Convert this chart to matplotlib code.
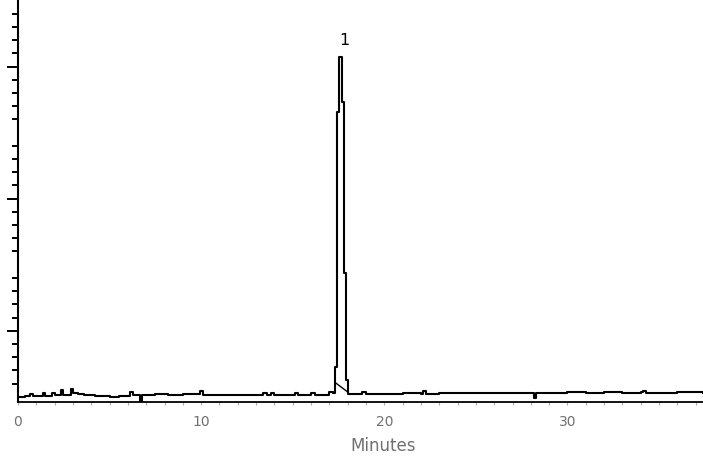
import numpy as np
import matplotlib
matplotlib.use("Agg")
import matplotlib.pyplot as plt
from matplotlib.ticker import FixedLocator

# chromatogram trace, time in minutes, signal in arbitrary units
time_min = [0.0, 0.4, 0.65, 0.8, 1.36, 1.5, 1.85, 2.0, 2.35, 2.45, 2.89, 3.0,
            3.3, 3.6, 4.2, 5.0, 5.5, 6.1, 6.3, 6.66, 6.75, 7.5, 8.2, 9.0,
            9.93, 10.1, 11.0, 12.0, 13.0, 13.4, 13.6, 13.8, 14.0, 15.1, 15.3,
            16.0, 16.2, 16.8, 17.0, 17.2,
            17.29, 17.40, 17.51, 17.68, 17.78, 17.89, 18.0,
            18.5, 18.8, 19.0, 20.0, 21.0, 22.0, 22.1, 22.3, 23.0, 24.0, 25.0,
            26.0, 27.0, 28.0, 28.2, 28.3, 29.0, 30.0, 31.0, 32.0, 33.0, 34.0,
            34.1, 34.3, 35.0, 36.0, 37.0, 37.4]
signal = [0.0, 0.05, 0.2, 0.05, 0.3, 0.05, 0.3, 0.1, 0.5, 0.1, 0.6, 0.3,
          0.2, 0.1, 0.05, 0.0, 0.05, 0.35, 0.15, -0.35, 0.15, 0.2, 0.15, 0.2,
          0.4, 0.15, 0.1, 0.12, 0.15, 0.3, 0.12, 0.3, 0.12, 0.25, 0.1,
          0.3, 0.12, 0.15, 0.35, 0.3,
          2.25, 21.6, 25.7, 22.3, 9.4, 1.27, 0.2,
          0.2, 0.35, 0.2, 0.22, 0.25, 0.22, 0.4, 0.22, 0.25, 0.28, 0.25,
          0.3, 0.28, 0.25, -0.1, 0.28, 0.3, 0.32, 0.3, 0.35, 0.3, 0.33,
          0.45, 0.3, 0.3, 0.35, 0.35, 0.3]

# integration baseline under peak 1
drop_t = [17.35, 18.0]
drop_v = [1.04, 0.36]

peak_label = "1"
peak_pos = (17.84, 27.0)

x_ticks = [0, 10, 20, 30]
x_ticklabels = ["0", "10", "20", "30"]
x_minor = [m for m in range(1, 38) if m % 10 != 0]
y_major = [5, 15, 25]
y_minor = [m for m in range(1, 30) if m % 5 != 0]

fig = plt.figure(figsize=(7.03, 4.57), dpi=100)
ax = fig.add_axes([18 / 703, 55 / 457, 685 / 703, 402 / 457])

ax.plot(time_min, signal, drawstyle="steps-post", color="black", lw=1.5)
ax.plot(drop_t, drop_v, color="black", lw=1.0)
ax.text(peak_pos[0], peak_pos[1], peak_label, ha="center", va="center",
        fontsize=11.5, color="black")

ax.set_xlim(0, 37.4)
ax.set_ylim(-0.4, 30.05)

for s in ("top", "right"):
    ax.spines[s].set_visible(False)
ax.spines["left"].set_linewidth(1.5)
ax.spines["bottom"].set_linewidth(1.3)

ax.set_xticks(x_ticks)
ax.set_xticklabels(x_ticklabels)
ax.xaxis.set_minor_locator(FixedLocator(x_minor))
ax.tick_params(axis="x", which="major", length=2, width=0.8, color="#aaaaaa",
               pad=7, labelsize=10, labelcolor="#707070")
ax.tick_params(axis="x", which="minor", length=2, width=0.8, color="#aaaaaa")

ax.yaxis.set_major_locator(FixedLocator(y_major))
ax.yaxis.set_minor_locator(FixedLocator(y_minor))
ax.set_yticklabels([])
ax.tick_params(axis="y", which="major", length=8, width=1.4, color="black")
ax.tick_params(axis="y", which="minor", length=4.3, width=1.4, color="black")

ax.set_xlabel("Minutes", fontsize=12, color="#707070")
ax.xaxis.set_label_coords(0.533, -0.087)

fig.savefig("out.png", dpi=100)
